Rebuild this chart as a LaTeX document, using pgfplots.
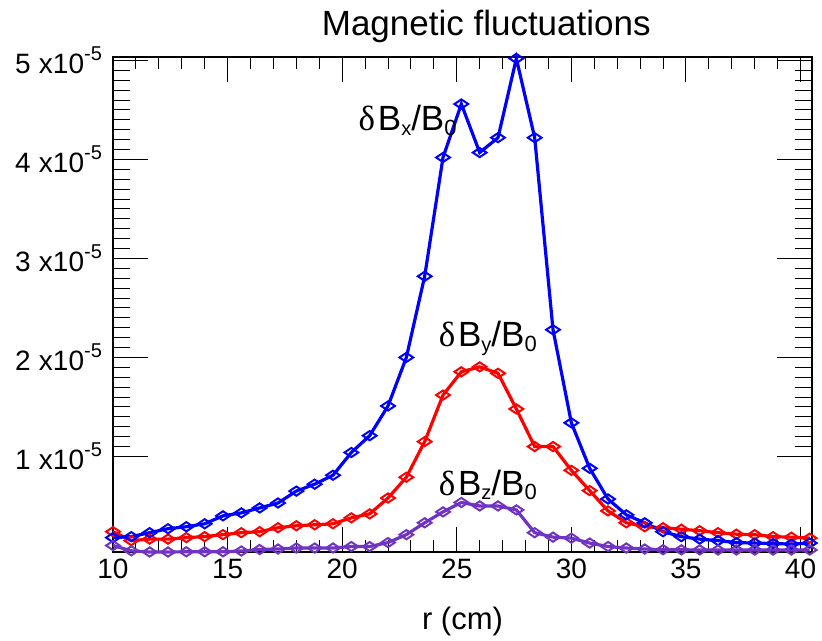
\documentclass[border=0pt]{standalone}
\usepackage{fontspec}
\setmainfont{Liberation Sans}
\newfontfamily\grfont{Liberation Serif}
\usepackage{pgfplots}
\usepackage{pgfplotstable}
\pgfplotsset{compat=1.18}
\usetikzlibrary{calc}

\definecolor{bzpurple}{RGB}{112,52,196}

% fluctuation amplitudes, in units of 1e-5
\pgfplotstableread{
r    bx    by    bz
10.0 0.18  0.24  0.100
10.8 0.19  0.15  0.047
11.6 0.23  0.165 0.035
12.4 0.27  0.165 0.035
13.2 0.29  0.18  0.037
14.0 0.32  0.19  0.037
14.8 0.40  0.21  0.037
15.6 0.43  0.23  0.045
16.4 0.48  0.24  0.060
17.2 0.53  0.28  0.065
18.0 0.65  0.30  0.075
18.8 0.72  0.31  0.075
19.6 0.81  0.32  0.075
20.4 1.04  0.38  0.090
21.2 1.21  0.42  0.090
22.0 1.51  0.58  0.130
22.8 2.00  0.79  0.210
23.6 2.82  1.15  0.330
24.4 4.02  1.62  0.440
25.2 4.56  1.855 0.535
26.0 4.07  1.905 0.500
26.8 4.22  1.84  0.500
27.6 5.02  1.48  0.460
28.4 4.22  1.10  0.230
29.2 2.28  1.10  0.185
30.0 1.34  0.86  0.175
30.8 0.88  0.655 0.125
31.6 0.57  0.45  0.090
32.4 0.41  0.33  0.075
33.2 0.33  0.29  0.065
34.0 0.24  0.28  0.058
34.8 0.19  0.265 0.057
35.6 0.165 0.25  0.056
36.4 0.15  0.23  0.055
37.2 0.13  0.215 0.055
38.0 0.125 0.21  0.055
38.8 0.12  0.19  0.055
39.6 0.115 0.185 0.055
40.4 0.125 0.175 0.055
}\datatable

\newcommand{\sx}[1]{\hspace{0.3em}x10\raisebox{0.9ex}{\fontsize{10}{11}\selectfont #1}}
\newcommand{\dB}[1]{{\grfont δ}\hspace{0.08em}B\raisebox{-0.25ex}{\fontsize{10}{11}\selectfont #1}/B\raisebox{-0.25ex}{\fontsize{11}{12}\selectfont 0}}

\begin{document}
\begin{tikzpicture}
\pgfplotsset{
  every axis/.append style={
    width=349.5pt, height=247.5pt, scale only axis,
    xmin=10, xmax=40.5, ymin=0.035, ymax=5.035,
    tick align=inside,
    tick style={black, line width=0.5pt},
    axis line style={line width=0.6pt},
  },
}
% x ticks (shorter, as in the original)
\begin{axis}[
  xtick={10,15,...,40}, minor x tick num=4, ytick=\empty,
  major tick length=12.5pt, minor tick length=6pt,
  xticklabel style={font=\fontsize{14}{16}\selectfont},
  /pgf/number format/assume math mode=true,
]
\end{axis}
% y ticks + data
\begin{axis}[
  xtick=\empty,
  ytick={1,2,3,4,5}, minor y tick num=9,
  major tick length=17.5pt, minor tick length=8.5pt,
  yticklabels={1\sx{-5},2\sx{-5},3\sx{-5},4\sx{-5},5\sx{-5}},
  yticklabel style={font=\fontsize{14}{16}\selectfont, xshift=-2pt},
  clip=false,
  every axis plot/.append style={line width=1.6pt,
    mark=diamond, mark size=2.3pt,
    mark options={xscale=2.0, yscale=1.0, line width=1pt, fill=none}},
]
\addplot[red] table[x=r,y=by] {\datatable};
\addplot[blue] table[x=r,y=bx] {\datatable};
\addplot[bzpurple] table[x=r,y=bz] {\datatable};

\node[anchor=base west, font=\fontsize{17.5}{20}\selectfont, inner sep=0pt]
  at (axis cs:20.7,4.29) {\dB{x}};
\node[anchor=base west, font=\fontsize{17.5}{20}\selectfont, inner sep=0pt]
  at (axis cs:24.2,2.107) {\dB{y}};
\node[anchor=base west, font=\fontsize{17.5}{20}\selectfont, inner sep=0pt]
  at (axis cs:24.2,0.61) {\dB{z}};

\node[anchor=base, font=\fontsize{17.5}{20}\selectfont, inner sep=0pt]
  at (rel axis cs:0.534,1) [yshift=10.5pt] {Magnetic fluctuations};
\node[anchor=base, font=\fontsize{15.5}{18}\selectfont, inner sep=0pt]
  at (rel axis cs:0.5,0) [yshift=-39pt] {r (cm)};

\coordinate (sw) at (rel axis cs:0,0);
\coordinate (ne) at (rel axis cs:1,1);
\end{axis}
\pgfresetboundingbox
\path ($(sw)+(-56.5pt,-44.5pt)$) rectangle ($(ne)+(5pt,28.5pt)$);
\end{tikzpicture}
\end{document}
